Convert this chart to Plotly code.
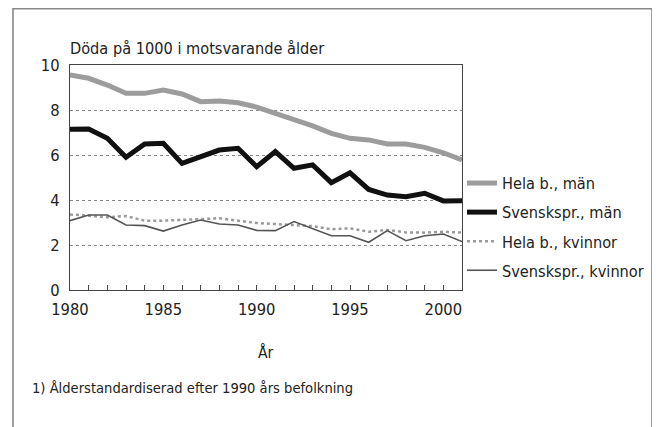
import plotly.graph_objects as go

years = list(range(1980, 2002))
hela_man = [9.56, 9.41, 9.11, 8.74, 8.74, 8.89, 8.71, 8.37, 8.40, 8.32, 8.13,
            7.85, 7.60, 7.29, 6.96, 6.74, 6.67, 6.49, 6.49, 6.34, 6.10, 5.78]
svensk_man = [7.14, 7.16, 6.74, 5.90, 6.49, 6.52, 5.63, 5.92, 6.22, 6.30, 5.48,
              6.15, 5.41, 5.56, 4.77, 5.21, 4.47, 4.22, 4.15, 4.30, 3.96, 3.97]
hela_kv = [3.36, 3.30, 3.23, 3.29, 3.08, 3.08, 3.11, 3.14, 3.19, 3.08, 2.98,
           2.93, 2.90, 2.84, 2.70, 2.74, 2.59, 2.67, 2.56, 2.55, 2.59, 2.55]
svensk_kv = [3.08, 3.33, 3.33, 2.89, 2.86, 2.62, 2.89, 3.11, 2.93, 2.89, 2.65,
             2.64, 3.04, 2.71, 2.41, 2.41, 2.12, 2.64, 2.19, 2.41, 2.49, 2.15]

names = ["Hela b., män", "Svenskspr., män", "Hela b., kvinnor", "Svenskspr., kvinnor"]
y_ticks = [0, 2, 4, 6, 8, 10]
x_ticks = [1980, 1985, 1990, 1995, 2000]

FONT = "Liberation Sans Narrow, Arial Narrow, DejaVu Sans Condensed, sans-serif"

# page body has an 8px margin; figure is sized/positioned to compensate
PL, PT, PW, PH = 62, 57, 392, 225

fig = go.Figure()
fig.add_trace(go.Scatter(x=years, y=hela_man, name=names[0], mode="lines",
                         line=dict(color="#9c9c9c", width=5), legendgroup="a"))
fig.add_trace(go.Scatter(x=years, y=svensk_man, name=names[1], mode="lines",
                         line=dict(color="#111111", width=5), legendgroup="b"))
fig.add_trace(go.Scatter(x=years, y=hela_kv, name=names[2], mode="lines",
                         line=dict(color="#9a9a9a", width=2.5, dash="dot"), legendgroup="c"))
fig.add_trace(go.Scatter(x=years, y=svensk_kv, name=names[3], mode="lines",
                         line=dict(color="#555555", width=1.6), legendgroup="d"))

fig.update_layout(
    width=652, height=419,
    margin=dict(l=PL, r=652 - PL - PW, t=PT, b=419 - PT - PH, autoexpand=False),
    paper_bgcolor="white", plot_bgcolor="white",
    font=dict(family=FONT, size=16.4, color="#222"),
    showlegend=True,
    legend=dict(x=1.0, xanchor="left", y=0.551, yanchor="top",
                bgcolor="rgba(0,0,0,0)", traceorder="grouped",
                tracegroupgap=5, font=dict(size=16.2)),
    xaxis=dict(range=[1980, 2001], tickvals=x_ticks, ticks="inside", ticklen=5,
               tickcolor="#444", showline=True, linecolor="#444", linewidth=1.3,
               mirror=True, showgrid=False, zeroline=False,
               minor=dict(dtick=1, ticks="inside", ticklen=5, tickcolor="#444"),
               ticklabelstandoff=4, tickfont=dict(size=16.4)),
    yaxis=dict(range=[0, 10], tickvals=y_ticks, ticks="", showline=True,
               linecolor="#444", linewidth=1.3, mirror=True, showgrid=True,
               gridcolor="#888", griddash="dot", gridwidth=1.2, zeroline=False,
               ticklabelstandoff=6, tickfont=dict(size=16.4)),
    annotations=[
        dict(text="Döda på 1000 i motsvarande ålder", xref="paper", yref="paper",
             x=0.0, y=1.0, xanchor="left", yanchor="middle", yshift=17, xshift=-2,
             showarrow=False, font=dict(size=16.2)),
        dict(text="År", xref="paper", yref="paper", x=0.5, y=0, yanchor="middle",
             yshift=-62, showarrow=False, font=dict(size=15.5)),
        dict(text="1) Ålderstandardiserad efter 1990 års befolkning", xref="paper",
             yref="paper", x=(22 - PL) / PW, y=0, xanchor="left", yanchor="middle",
             yshift=-97, showarrow=False, font=dict(size=14.6)),
    ],
    shapes=[
        dict(type="rect", xref="paper", yref="paper",
             x0=(5 - PL) / PW, x1=(644 - PL) / PW,
             y0=(PT + PH - 440) / PH, y1=(PT + PH - 0.8) / PH,
             line=dict(color="#888", width=1.6), fillcolor="rgba(0,0,0,0)", layer="below"),
    ],
)

fig.write_html("out.html")
